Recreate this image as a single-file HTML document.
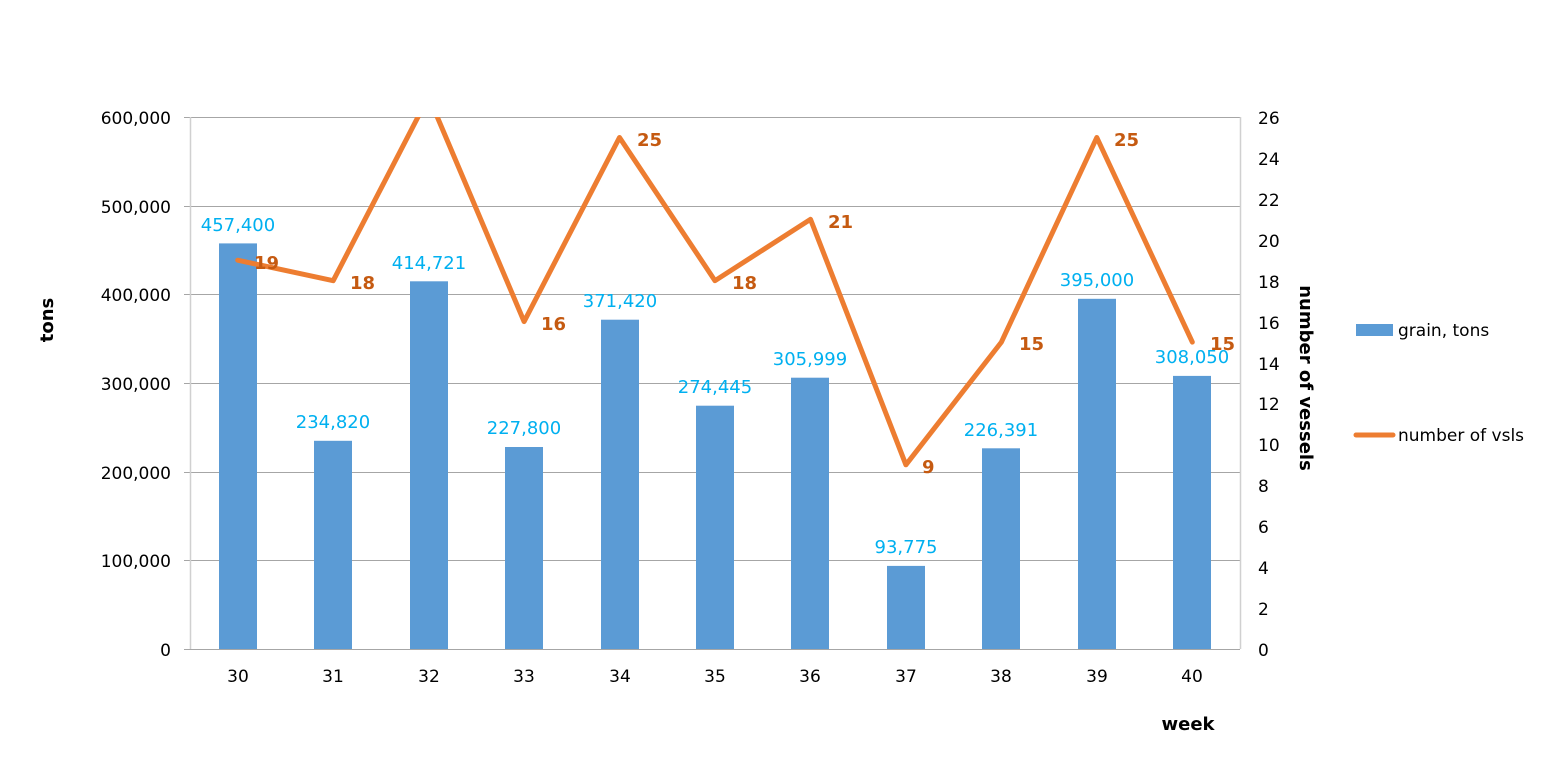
<!DOCTYPE html>
<html><head><meta charset="utf-8"><style>
html,body{margin:0;padding:0;background:#fff;}
svg{display:block;font-family:"DejaVu Sans","Liberation Sans",sans-serif;}
</style></head><body>
<svg width="1564" height="772" viewBox="0 0 1564 772" xmlns="http://www.w3.org/2000/svg">
<defs><clipPath id="pa"><rect x="190" y="117" width="1050" height="532"/></clipPath></defs>
<g stroke="#a6a6a6" stroke-width="1">
<line x1="184" y1="117.5" x2="1240" y2="117.5"/>
<line x1="184" y1="206.5" x2="1240" y2="206.5"/>
<line x1="184" y1="294.5" x2="1240" y2="294.5"/>
<line x1="184" y1="383.5" x2="1240" y2="383.5"/>
<line x1="184" y1="472.5" x2="1240" y2="472.5"/>
<line x1="184" y1="560.5" x2="1240" y2="560.5"/>
<line x1="184" y1="649.5" x2="1240" y2="649.5"/>
</g>
<line x1="190.5" y1="117" x2="190.5" y2="649" stroke="#d0d0d0" stroke-width="1.5"/>
<line x1="1240.5" y1="117" x2="1240.5" y2="649" stroke="#d0d0d0" stroke-width="1.5"/>
<g fill="#5b9bd5">
<rect x="219" y="243.4" width="38" height="405.6"/>
<rect x="314" y="440.8" width="38" height="208.2"/>
<rect x="410" y="281.3" width="38" height="367.7"/>
<rect x="505" y="447" width="38" height="202"/>
<rect x="601" y="319.7" width="38" height="329.3"/>
<rect x="696" y="405.7" width="38" height="243.3"/>
<rect x="791" y="377.7" width="38" height="271.3"/>
<rect x="887" y="565.9" width="38" height="83.1"/>
<rect x="982" y="448.3" width="38" height="200.7"/>
<rect x="1078" y="298.8" width="38" height="350.2"/>
<rect x="1173" y="375.9" width="38" height="273.1"/>
</g>
<g fill="#00b0f0" font-size="18" text-anchor="middle">
<text x="238" y="231">457,400</text>
<text x="333" y="428">234,820</text>
<text x="429" y="269">414,721</text>
<text x="524" y="434">227,800</text>
<text x="620" y="307">371,420</text>
<text x="715" y="393">274,445</text>
<text x="810" y="365">305,999</text>
<text x="906" y="553">93,775</text>
<text x="1001" y="436">226,391</text>
<text x="1097" y="286">395,000</text>
<text x="1192" y="363">308,050</text>
</g>
<polyline clip-path="url(#pa)" fill="none" stroke="#ed7d31" stroke-width="5" stroke-linejoin="round" stroke-linecap="round"
points="237.7,260.2 333.2,280.7 428.6,96.5 524.1,321.6 619.5,137.5 715,280.7 810.5,219.3 905.9,464.8 1001.4,342.1 1096.8,137.5 1192.3,342.1"/>
<g fill="#c55a11" font-size="18" font-weight="bold">
<text x="254" y="269">19</text>
<text x="350" y="289">18</text>
<text x="541" y="330">16</text>
<text x="637" y="146">25</text>
<text x="732" y="289">18</text>
<text x="828" y="228">21</text>
<text x="922" y="473">9</text>
<text x="1019" y="350">15</text>
<text x="1114" y="146">25</text>
<text x="1210" y="350">15</text>
</g>
<g font-size="17" fill="#000" text-anchor="end">
<text x="171" y="124">600,000</text>
<text x="171" y="213">500,000</text>
<text x="171" y="301">400,000</text>
<text x="171" y="390">300,000</text>
<text x="171" y="479">200,000</text>
<text x="171" y="567">100,000</text>
<text x="171" y="656">0</text>
</g>
<g font-size="17" fill="#000">
<text x="1258" y="124">26</text><text x="1258" y="165">24</text><text x="1258" y="206">22</text>
<text x="1258" y="247">20</text><text x="1258" y="288">18</text><text x="1258" y="329">16</text>
<text x="1258" y="370">14</text><text x="1258" y="410">12</text><text x="1258" y="451">10</text>
<text x="1258" y="492">8</text><text x="1258" y="533">6</text><text x="1258" y="574">4</text>
<text x="1258" y="615">2</text><text x="1258" y="656">0</text>
</g>
<g font-size="17" fill="#000" text-anchor="middle">
<text x="238" y="682">30</text><text x="333" y="682">31</text><text x="429" y="682">32</text>
<text x="524" y="682">33</text><text x="620" y="682">34</text><text x="715" y="682">35</text>
<text x="810" y="682">36</text><text x="906" y="682">37</text><text x="1001" y="682">38</text>
<text x="1097" y="682">39</text><text x="1192" y="682">40</text>
</g>
<text x="1188" y="730" font-size="18" font-weight="bold" text-anchor="middle">week</text>
<text transform="translate(53,320) rotate(-90)" font-size="18" font-weight="bold" text-anchor="middle">tons</text>
<text transform="translate(1300,378) rotate(90)" font-size="18" font-weight="bold" text-anchor="middle">number of vessels</text>
<rect x="1356" y="324" width="37" height="12" fill="#5b9bd5"/>
<text x="1398" y="336" font-size="17">grain, tons</text>
<line x1="1356" y1="435" x2="1393" y2="435" stroke="#ed7d31" stroke-width="5" stroke-linecap="round"/>
<text x="1398" y="441" font-size="17">number of vsls</text>
</svg>
</body></html>
